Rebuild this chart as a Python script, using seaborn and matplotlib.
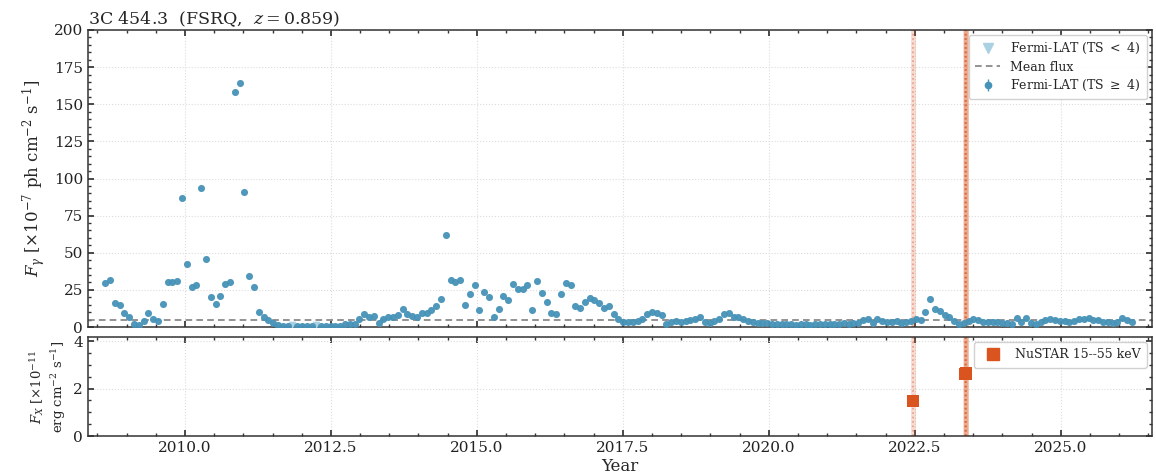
import numpy as np
import pandas as pd
import matplotlib
matplotlib.use("Agg")
import matplotlib.pyplot as plt
import seaborn as sns
from matplotlib.ticker import MultipleLocator
from matplotlib.lines import Line2D

# ---------------- data ----------------
source_title = "3C 454.3  (FSRQ,  $z = 0.859$)"
bin_start_year = 2008.636      # centre of first 30-day Fermi-LAT bin
bin_days = 30.0

fermi_flux = [
    29.8, 31.4, 16.2, 14.8, 9.2, 6.7, 2.2, 1.1, 4.3, 9.2,
    5.2, 4.3, 15.7, 30.3, 30.5, 31.2, 86.9, 42.6, 27.2, 28.3,
    93.4, 45.8, 20.0, 15.3, 20.9, 29.2, 30.5, 158.0, 164.0, 91.1,
    34.1, 26.7, 9.9, 6.9, 4.5, 2.5, 1.1, 0.9, 0.6, 1.5,
    0.5, 0.4, 0.6, 0.5, 1.5, 0.6, 0.4, 0.7, 0.9, 0.9,
    2.2, 2.2, 2.2, 5.4, 8.5, 6.5, 7.2, 2.9, 5.2, 6.9,
    6.7, 7.9, 12.3, 8.5, 7.2, 6.7, 9.6, 9.2, 11.4, 13.9,
    18.7, 62.0, 31.4, 30.1, 31.6, 14.6, 22.2, 28.5, 11.7, 23.8,
    20.0, 6.7, 12.3, 21.1, 18.2, 28.8, 25.6, 25.6, 28.1, 11.4,
    30.8, 23.1, 16.8, 9.6, 9.0, 22.2, 29.8, 28.5, 13.9, 12.6,
    16.8, 19.3, 18.0, 16.0, 13.0, 13.9, 9.0, 5.2, 3.2, 3.4,
    3.6, 3.8, 5.6, 9.0, 10.3, 9.6, 7.9, 1.8, 3.6, 4.0,
    3.4, 4.0, 4.7, 5.4, 6.7, 3.5, 2.9, 4.3, 5.6, 8.8,
    9.6, 6.5, 6.7, 5.2, 3.8, 3.2, 2.5, 2.5, 2.5, 2.3,
    2.0, 2.2, 1.8, 2.0, 1.5, 1.8, 2.0, 1.6, 2.2, 1.9,
    2.0, 1.7, 2.3, 2.0, 2.4, 2.1, 2.6, 3.0,
    4.7, 5.2, 2.9, 5.6, 3.8, 3.4, 3.4, 3.8, 2.9, 3.4, 3.8, 5.6,
    4.6, 9.9, 19.1, 12.1, 11.0, 7.9, 6.9, 3.8, 2.2, 2.9,
    3.8, 5.2, 4.5, 3.4, 3.4, 3.4, 3.2, 2.5, 2.5, 2.2,
    6.3, 3.6, 6.1, 2.9, 2.0, 3.4, 4.5, 5.4, 4.9, 3.8,
    4.0, 3.6, 3.8, 5.6, 5.4, 5.8, 4.9, 4.5, 3.6, 3.4,
    2.9, 3.6, 6.3, 4.7, 3.4,
]
upper_limit_bins = [39, 44]     # bins with TS < 4
mean_flux = 5.0

nustar_year = [2022.47, 2023.362, 2023.37, 2023.378]
nustar_flux = [1.48, 2.60, 2.63, 2.66]

gamma_yticks = [0, 25, 50, 75, 100, 125, 150, 175, 200]
x_ticks = [2010.0, 2012.5, 2015.0, 2017.5, 2020.0, 2022.5, 2025.0]
xray_yticks = [0, 2, 4]

# ---------------- build frames ----------------
n = len(fermi_flux)
year = bin_start_year + np.arange(n) * bin_days / 365.25
df = pd.DataFrame({"year": year, "flux": fermi_flux})
df["ul"] = False
df.loc[upper_limit_bins, "ul"] = True
det = df[~df["ul"]]
ul = df[df["ul"]]
nu = pd.DataFrame({"year": nustar_year, "flux": nustar_flux})

# ---------------- style ----------------
sns.set_theme(style="ticks")
plt.rcParams.update({
    "font.family": ["DejaVu Serif"],
    "mathtext.fontset": "dejavuserif",
    "xtick.direction": "in", "ytick.direction": "in",
    "xtick.top": True, "ytick.right": True,
    "xtick.minor.visible": True, "ytick.minor.visible": True,
    "xtick.major.size": 4, "ytick.major.size": 4,
    "xtick.minor.size": 2.2, "ytick.minor.size": 2.2,
    "axes.edgecolor": "#333333", "axes.linewidth": 1.1,
    "xtick.color": "#333333", "ytick.color": "#333333",
    "xtick.labelcolor": "#222222", "ytick.labelcolor": "#222222",
    "xtick.labelsize": 11, "ytick.labelsize": 11,
})

fermi_c = "#4693b8"
ul_c = "#a9d1e2"
nu_c = "#d9541e"

fig = plt.figure(figsize=(11.56, 4.76), dpi=100)
ax1 = fig.add_axes([0.0761, 0.313, 0.9204, 0.624])
ax2 = fig.add_axes([0.0761, 0.084, 0.9204, 0.208], sharex=ax1)

for ax in (ax1, ax2):
    ax.grid(True, which="major", ls=":", color="#dcdcdc", lw=0.8)
    ax.set_axisbelow(True)
    for x in nustar_year:
        ax.axvline(x, color=nu_c, lw=3.5, alpha=0.2, zorder=1)
        ax.axvline(x, color=nu_c, lw=1.2, ls=":", alpha=0.45, zorder=1)

# top panel
sns.scatterplot(data=ul, x="year", y="flux", ax=ax1, marker="v", s=30,
                color=ul_c, linewidth=0, zorder=3, legend=False)
ax1.axhline(mean_flux, color="#808080", ls="--", lw=1.2, dashes=(4, 2.5), zorder=2)
sns.scatterplot(data=det, x="year", y="flux", ax=ax1, s=26, color=fermi_c,
                linewidth=0, alpha=0.95, zorder=4, legend=False)

h_ul = Line2D([], [], marker="v", ls="none", color=ul_c, markersize=7)
h_mean = Line2D([], [], color="#808080", ls="--", lw=1.2, dashes=(4, 2.5))
h_det = ax1.errorbar([np.nan], [np.nan], yerr=[np.nan], fmt="o", color=fermi_c,
                     markersize=4.5, elinewidth=1)
ax1.legend([h_ul, h_mean, h_det],
           ["Fermi-LAT (TS $<$ 4)", "Mean flux", "Fermi-LAT (TS $\\geq$ 4)"],
           loc="upper right", fontsize=9, frameon=True, fancybox=True,
           edgecolor="#cccccc", framealpha=0.9, borderpad=0.5,
           handlelength=2.0, labelspacing=0.35, borderaxespad=0.4)

ax1.set_ylim(0, 200)
ax1.set_yticks(gamma_yticks)
ax1.yaxis.set_minor_locator(MultipleLocator(5))
ax1.set_xlim(2008.34, 2026.56)
ax1.set_xticks(x_ticks)
ax1.xaxis.set_minor_locator(MultipleLocator(0.5))
ax1.tick_params(labelbottom=False)
ax1.set_xlabel("")
ax1.set_ylabel(r"$F_\gamma$ [$\times10^{-7}$ ph cm$^{-2}$ s$^{-1}$]", fontsize=12)
ax1.set_title(source_title, loc="left", fontsize=12.5, pad=4)

# bottom panel
sns.scatterplot(data=nu, x="year", y="flux", ax=ax2, marker="s", s=85,
                color=nu_c, linewidth=0, zorder=4, legend=False)
h_nu = Line2D([], [], marker="s", ls="none", color=nu_c, markersize=9)
ax2.legend([h_nu], ["NuSTAR 15--55 keV"], loc="upper right", fontsize=9,
           frameon=True, fancybox=True, edgecolor="#cccccc", framealpha=0.9,
           handlelength=2.0, borderpad=0.5, borderaxespad=0.4)
ax2.set_ylim(0, 4.17)
ax2.set_yticks(xray_yticks)
ax2.yaxis.set_minor_locator(MultipleLocator(0.5))
ax2.set_xticks(x_ticks)
ax2.set_xticklabels([f"{t:.1f}" for t in x_ticks])
ax2.set_xlabel("Year", fontsize=12, labelpad=2)
ax2.set_ylabel("$F_X$ [$\\times10^{-11}$\nerg cm$^{-2}$ s$^{-1}$]", fontsize=9.5)

fig.savefig("out.png", dpi=100)
